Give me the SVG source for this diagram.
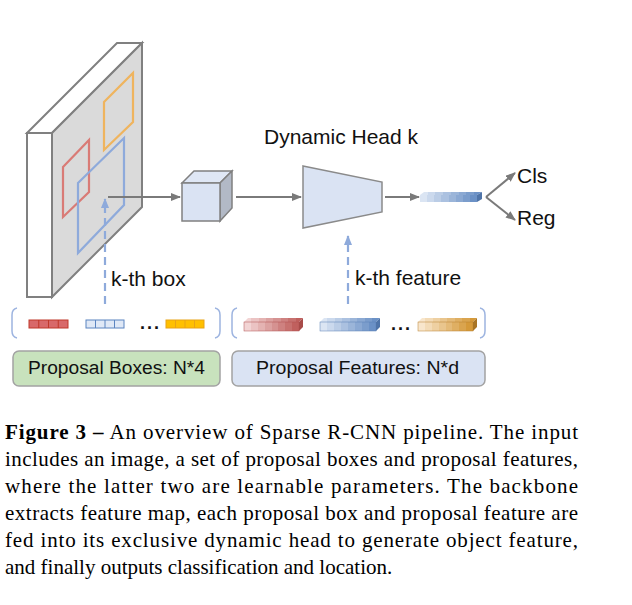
<svg xmlns="http://www.w3.org/2000/svg" width="632" height="605" viewBox="0 0 632 605">
<style>
.lbl{font-family:"Liberation Sans",Arial,sans-serif;font-size:21px;fill:#111}
.box{font-family:"Liberation Sans",Arial,sans-serif;font-size:18px;fill:#111}
.cap{font-family:"Liberation Serif","Times New Roman",serif;font-size:21px;fill:#000}
.dots{font-family:"Liberation Sans",Arial,sans-serif;font-size:18px;font-weight:bold;fill:#111;letter-spacing:2px}
.arr{stroke:#7a7a7a;stroke-width:2;fill:none}
.dash{stroke:#8eaadb;stroke-width:2.2;fill:none;stroke-dasharray:8 5}
.brk{stroke:#9db4e0;stroke-width:1.5;fill:none}
</style>
<defs>
<marker id="ah" markerWidth="10" markerHeight="8" refX="9" refY="4" orient="auto" markerUnits="userSpaceOnUse">
<path d="M0,0 L10,4 L0,8 Z" fill="#7a7a7a"/>
</marker>
<marker id="ahb" markerWidth="10" markerHeight="8" refX="9" refY="4" orient="auto" markerUnits="userSpaceOnUse">
<path d="M0,0 L10,4 L0,8 Z" fill="#8eaadb"/>
</marker>
<linearGradient id="gR" x1="0" x2="1" y1="0" y2="0">
<stop offset="0" stop-color="#f2d4d4"/><stop offset=".125" stop-color="#f2d4d4"/><stop offset=".125" stop-color="#ebc3c3"/><stop offset=".25" stop-color="#ebc3c3"/><stop offset=".25" stop-color="#e4b3b2"/><stop offset=".375" stop-color="#e4b3b2"/><stop offset=".375" stop-color="#dca2a1"/><stop offset=".5" stop-color="#dca2a1"/><stop offset=".5" stop-color="#d59291"/><stop offset=".625" stop-color="#d59291"/><stop offset=".625" stop-color="#ce8180"/><stop offset=".75" stop-color="#ce8180"/><stop offset=".75" stop-color="#c7716f"/><stop offset=".875" stop-color="#c7716f"/><stop offset=".875" stop-color="#c0605e"/><stop offset="1" stop-color="#c0605e"/>
</linearGradient>
<linearGradient id="gB" x1="0" x2="1" y1="0" y2="0">
<stop offset="0" stop-color="#dbe5f3"/><stop offset=".125" stop-color="#dbe5f3"/><stop offset=".125" stop-color="#cbd9ed"/><stop offset=".25" stop-color="#cbd9ed"/><stop offset=".25" stop-color="#bbcde6"/><stop offset=".375" stop-color="#bbcde6"/><stop offset=".375" stop-color="#abc1e0"/><stop offset=".5" stop-color="#abc1e0"/><stop offset=".5" stop-color="#9bb5d9"/><stop offset=".625" stop-color="#9bb5d9"/><stop offset=".625" stop-color="#8ba9d3"/><stop offset=".75" stop-color="#8ba9d3"/><stop offset=".75" stop-color="#7b9dcc"/><stop offset=".875" stop-color="#7b9dcc"/><stop offset=".875" stop-color="#6b91c6"/><stop offset="1" stop-color="#6b91c6"/>
</linearGradient>
<linearGradient id="gO" x1="0" x2="1" y1="0" y2="0">
<stop offset="0" stop-color="#f8e6cc"/><stop offset=".125" stop-color="#f8e6cc"/><stop offset=".125" stop-color="#f3dbb7"/><stop offset=".25" stop-color="#f3dbb7"/><stop offset=".25" stop-color="#eed0a2"/><stop offset=".375" stop-color="#eed0a2"/><stop offset=".375" stop-color="#e9c58d"/><stop offset=".5" stop-color="#e9c58d"/><stop offset=".5" stop-color="#e4ba78"/><stop offset=".625" stop-color="#e4ba78"/><stop offset=".625" stop-color="#dfaf63"/><stop offset=".75" stop-color="#dfaf63"/><stop offset=".75" stop-color="#daa44e"/><stop offset=".875" stop-color="#daa44e"/><stop offset=".875" stop-color="#d59939"/><stop offset="1" stop-color="#d59939"/>
</linearGradient>
</defs>
<rect width="632" height="605" fill="#fff"/>

<g id="image-slab">
<polygon points="27,133 117,43 142,43 52,133" fill="#fff" stroke="#808080" stroke-width="2"/>
<polygon points="52,133 142,43 142,207 52,297" fill="#dadada" stroke="#808080" stroke-width="2"/>
<rect x="27" y="133" width="25" height="164" fill="#fff" stroke="#808080" stroke-width="2"/>
<polygon points="104,102 133,73 133,122 104,150" fill="none" stroke="#efb45e" stroke-width="2.2"/>
<polygon points="63,167 89,140 89,192 63,217" fill="none" stroke="#d97b76" stroke-width="2.2"/>
<polygon points="78,183 124,138 124,205 78,253" fill="none" stroke="#8eaadb" stroke-width="2.2"/>
</g>

<g id="cube">
<polygon points="182,183 194,171 232,171 220,183" fill="#dfe7f5" stroke="#808080" stroke-width="1.5"/>
<polygon points="220,183 232,171 232,208 220,221" fill="#b2b9c6" stroke="#808080" stroke-width="1.5"/>
<rect x="182" y="183" width="38" height="38" fill="#dae3f3" stroke="#808080" stroke-width="1.5"/>
</g>

<g id="dynamic-head">
<polygon points="303,166 382,182 382,212 303,228" fill="#dae3f3" stroke="#8a8a8a" stroke-width="1.5"/>
<text class="lbl" x="264" y="144">Dynamic Head k</text>
</g>

<g id="object-feature">
<polygon points="420,195 424,192 482,192 477,195" fill="url(#gB)"/>
<rect x="420" y="195" width="57" height="7" fill="url(#gB)"/>
<polygon points="477,195 482,192 482,199 477,202" fill="#4f74a8"/>
</g>

<g id="cls"><text class="lbl" x="517" y="183">Cls</text></g>
<g id="reg"><text class="lbl" x="517" y="225">Reg</text></g>

<g id="connectors">
<line class="arr" x1="108" y1="197" x2="180" y2="197" marker-end="url(#ah)"/>
<line class="arr" x1="236" y1="197" x2="301" y2="197" marker-end="url(#ah)"/>
<line class="arr" x1="385" y1="197" x2="419" y2="197" marker-end="url(#ah)"/>
<line class="arr" x1="486" y1="197" x2="515" y2="173" marker-end="url(#ah)"/>
<line class="arr" x1="486" y1="197" x2="515" y2="220" marker-end="url(#ah)"/>
<line class="dash" x1="105" y1="304" x2="105" y2="199" marker-end="url(#ahb)"/>
<line class="dash" x1="348" y1="304" x2="348" y2="236" marker-end="url(#ahb)"/>
</g>

<g id="k-th-box"><text class="lbl" x="111" y="286">k-th box</text></g>
<g id="k-th-feature"><text class="lbl" x="355" y="285">k-th feature</text></g>

<g id="proposal-boxes-set">
<path class="brk" d="M17,308 Q12,309 12,315 L12,331 Q12,337 17,338"/>
<path class="brk" d="M215,308 Q220,309 220,315 L220,331 Q220,337 215,338"/>
<rect x="29" y="320" width="39" height="8" fill="#d8696a" stroke="#c0392b" stroke-width="1"/>
<path d="M38.75,320 V328 M48.5,320 V328 M58.25,320 V328" stroke="#c0392b" stroke-width="1"/>
<rect x="86" y="320" width="38" height="8" fill="#dfe8f6" stroke="#5b84c0" stroke-width="1"/>
<path d="M95.5,320 V328 M105,320 V328 M114.5,320 V328" stroke="#5b84c0" stroke-width="1"/>
<text class="dots" x="140" y="329">...</text>
<rect x="166" y="320" width="38" height="8" fill="#ffc000" stroke="#e8a317" stroke-width="1"/>
<path d="M175.5,320 V328 M185,320 V328 M194.5,320 V328" stroke="#e8a317" stroke-width="1"/>
</g>

<g id="proposal-features-set">
<path class="brk" d="M237,308 Q232,309 232,315 L232,331 Q232,337 237,338"/>
<path class="brk" d="M480,308 Q485,309 485,315 L485,331 Q485,337 480,338"/>
<polygon points="244,322 248,318 303,318 299,322" fill="url(#gR)"/>
<rect x="244" y="322" width="55" height="9" fill="url(#gR)" stroke="#b05050" stroke-width="0.5"/>
<polygon points="299,322 303,318 303,327 299,331" fill="#a84b49"/>
<polygon points="320,322 324,318 380,318 376,322" fill="url(#gB)"/>
<rect x="320" y="322" width="56" height="9" fill="url(#gB)" stroke="#5a7fb5" stroke-width="0.5"/>
<polygon points="376,322 380,318 380,327 376,331" fill="#4f74a8"/>
<text class="dots" x="391" y="330">...</text>
<polygon points="418,322 422,318 477,318 473,322" fill="url(#gO)"/>
<rect x="418" y="322" width="55" height="9" fill="url(#gO)" stroke="#b88030" stroke-width="0.5"/>
<polygon points="473,322 477,318 477,327 473,331" fill="#a87424"/>
</g>

<g id="proposal-boxes">
<rect x="13" y="351" width="207" height="35" rx="6" fill="#c8e2bd" stroke="#a3a3a3" stroke-width="1.5"/>
<text class="box" x="116.5" y="374" text-anchor="middle" textLength="177" lengthAdjust="spacingAndGlyphs">Proposal Boxes: N*4</text>
</g>
<g id="proposal-features">
<rect x="232" y="351" width="253" height="35" rx="6" fill="#dae3f3" stroke="#a3a3a3" stroke-width="1.5"/>
<text class="box" x="357.5" y="374" text-anchor="middle" textLength="203" lengthAdjust="spacingAndGlyphs">Proposal Features: N*d</text>
</g>

<g id="caption">
<text class="cap" x="5" y="439" textLength="573" lengthAdjust="spacing"><tspan font-weight="bold">Figure 3 –</tspan> An overview of Sparse R-CNN pipeline. The input</text>
<text class="cap" x="5" y="466" textLength="573" lengthAdjust="spacing">includes an image, a set of proposal boxes and proposal features,</text>
<text class="cap" x="5" y="493" textLength="573" lengthAdjust="spacing">where the latter two are learnable parameters. The backbone</text>
<text class="cap" x="5" y="520" textLength="573" lengthAdjust="spacing">extracts feature map, each proposal box and proposal feature are</text>
<text class="cap" x="5" y="547" textLength="573" lengthAdjust="spacing">fed into its exclusive dynamic head to generate object feature,</text>
<text class="cap" x="5" y="574">and finally outputs classification and location.</text>
</g>
</svg>
